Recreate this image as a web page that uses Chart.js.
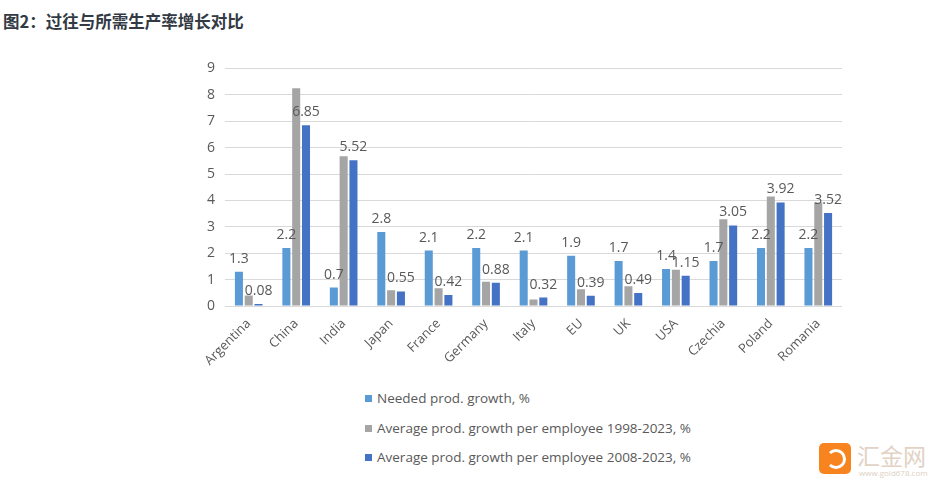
<!DOCTYPE html>
<html>
<head>
<meta charset="utf-8">
<script src="https://cdn.jsdelivr.net/npm/chart.js@4.4.1/dist/chart.umd.min.js"></script>
<style>
  body { margin: 0; background: #fff; width: 940px; height: 498px; position: relative; overflow: hidden; font-family: "Open Sans", "Noto Sans", sans-serif; }
  #title { position: absolute; left: 3px; top: 9px; font: bold 16.5px "Noto Sans CJK SC", sans-serif; color: #333a44; }
  #box { position: absolute; left: 185px; top: 50px; width: 660px; height: 326px; }
  #legend { position: absolute; left: 365px; top: 388px; font-size: 13.5px; color: #595959; }
  #legend div { height: 29.5px; line-height: 20px; }
  #legend span { display: inline-block; width: 7px; height: 7px; margin-right: 5px; vertical-align: 1px; }
  #logo { position: absolute; left: 819px; top: 443px; }
  #logo .ico { position: absolute; left: 0; top: 0; width: 32px; height: 31px; background: #f7841e; border-radius: 5px; }
  #logo .ico i { position: absolute; left: 7px; top: 6px; width: 14px; height: 14px; border: 3px solid #fff; border-radius: 50%; border-left-color: transparent; }
  #logo .nm { position: absolute; left: 38px; top: -5px; font: 23px "Noto Sans CJK SC", sans-serif; color: #e2d2c4; white-space: nowrap; }
  #logo .url { position: absolute; left: 40px; top: 24px; font-size: 8px; color: #ddd0c4; white-space: nowrap; }
</style>
</head>
<body>
<div id="title">图2：过往与所需生产率增长对比</div>
<div id="box"><canvas id="myChart"></canvas></div>
<div id="legend"></div>
<div id="logo"><div class="ico"><i></i></div><div class="nm">汇金网</div><div class="url">www.gold678.com</div></div>
<script>
const countries = ['Argentina', 'China', 'India', 'Japan', 'France', 'Germany', 'Italy', 'EU', 'UK', 'USA', 'Czechia', 'Poland', 'Romania'];
const needed = [1.3, 2.2, 0.7, 2.8, 2.1, 2.2, 2.1, 1.9, 1.7, 1.4, 1.7, 2.2, 2.2];
const avg9823 = [0.4, 8.25, 5.67, 0.6, 0.67, 0.92, 0.25, 0.63, 0.75, 1.37, 3.29, 4.15, 3.92];
const avg0823 = [0.08, 6.85, 5.52, 0.55, 0.42, 0.88, 0.32, 0.39, 0.49, 1.15, 3.05, 3.92, 3.52];
const yTicks = [0, 1, 2, 3, 4, 5, 6, 7, 8, 9];

const fam = '"Open Sans", "Noto Sans", sans-serif';

// value labels on the 1st and 3rd series only
const barLabels = {
  id: 'barLabels',
  afterDatasetsDraw(chart) {
    const c = chart.ctx;
    c.save();
    c.font = '14px ' + fam;
    c.fillStyle = '#595959';
    c.textAlign = 'center';
    c.textBaseline = 'bottom';
    [0, 2].forEach(i => {
      chart.getDatasetMeta(i).data.forEach((bar, j) => {
        c.fillText(String(chart.data.datasets[i].data[j]), bar.x, bar.y - 6);
      });
    });
    c.restore();
  }
};

const ctx = document.getElementById('myChart');
const myChart = new Chart(ctx, {
  type: 'bar',
  data: {
    labels: countries,
    datasets: [
      { label: 'Needed prod. growth, %', data: needed, backgroundColor: '#5b9bd5' },
      { label: 'Average prod. growth per employee 1998-2023, %', data: avg9823, backgroundColor: '#a5a5a5' },
      { label: 'Average prod. growth per employee 2008-2023, %', data: avg0823, backgroundColor: '#4472c4' }
    ]
  },
  options: {
    responsive: true,
    maintainAspectRatio: false,
    animation: false,
    layout: { padding: { top: 17, right: 3 } },
    datasets: { bar: { categoryPercentage: 0.62, barPercentage: 0.82 } },
    plugins: { legend: { display: false }, tooltip: { enabled: false } },
    scales: {
      x: {
        grid: { display: false },
        border: { display: false },
        ticks: { minRotation: 45, maxRotation: 45, padding: 2, color: '#595959', font: { size: 13, family: fam } },
        afterFit(s) { s.height = 70; }
      },
      y: {
        min: 0, max: 9,
        afterBuildTicks(s) { s.ticks = yTicks.map(v => ({ value: v })); },
        grid: { color: '#d9d9d9', drawTicks: false },
        border: { display: false },
        ticks: { padding: 10, color: '#595959', font: { size: 14, family: fam } },
        afterFit(s) { s.width = 40; }
      }
    }
  },
  plugins: [barLabels]
});

const legend = document.getElementById('legend');
myChart.data.datasets.forEach(ds => {
  const row = document.createElement('div');
  row.innerHTML = '<span style="background:' + ds.backgroundColor + '"></span>' + ds.label;
  legend.appendChild(row);
});
</script>
</body>
</html>
